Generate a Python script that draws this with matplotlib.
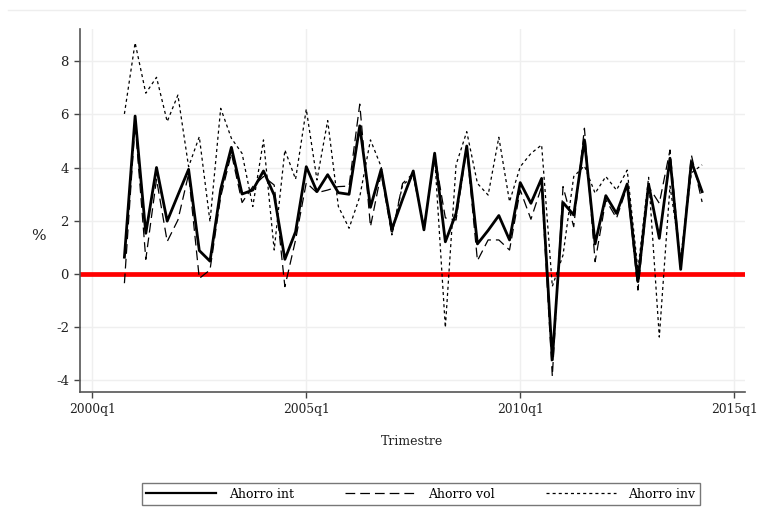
import numpy as np
import pandas as pd
import matplotlib
matplotlib.use("Agg")
import matplotlib.pyplot as plt
from matplotlib.lines import Line2D

plt.rcParams['font.family'] = ['DejaVu Serif']
plt.rcParams['lines.scale_dashes'] = False

# quarterly series, 2000q4 .. 2014q2
periods = pd.period_range("2000Q4", "2014Q2", freq="Q")

ahorro_int = [0.62, 5.94, 1.52, 4.00, 1.98, 2.96, 3.93, 0.87, 0.47, 3.18,
              4.76, 3.00, 3.15, 3.87, 2.96, 0.54, 1.58, 4.03, 3.09, 3.73,
              3.05, 2.99, 5.57, 2.50, 3.93, 1.67, 2.80, 3.87, 1.65, 4.54,
              1.20, 2.27, 4.81, 1.12, 1.63, 2.19, 1.27, 3.43, 2.65, 3.59,
              -3.25, 2.68, 2.21, 5.04, 1.12, 2.94, 2.27, 3.38, -0.30, 3.37,
              1.33, 4.35, 0.16, 4.22, 3.09]
ahorro_vol = [-0.36, 5.67, 0.54, 3.56, 1.21, 2.02, 3.75, -0.18, 0.14, 2.90,
              4.53, 2.68, 3.28, 3.66, 3.34, -0.49, 1.27, 3.43, 3.05, 3.15,
              3.28, 3.30, 6.39, 1.77, 3.78, 1.46, 3.40, 3.78, 1.71, 4.47,
              2.10, 2.02, 4.72, 0.49, 1.27, 1.27, 0.89, 3.15, 2.05, 3.28,
              -3.87, 3.28, 1.77, 5.48, 0.45, 2.78, 2.09, 3.28, -0.62, 3.28,
              2.65, 4.66, 0.26, 4.47, 2.70]
ahorro_inv = [6.02, 8.70, 6.80, 7.40, 5.73, 6.73, 4.03, 5.16, 1.96, 6.23,
              5.10, 4.53, 2.53, 5.04, 0.89, 4.66, 3.56, 6.20, 3.53, 5.77,
              2.53, 1.71, 2.90, 5.04, 4.03, 1.46, 3.34, 3.66, 1.77, 4.41,
              -2.03, 4.10, 5.35, 3.40, 2.96, 5.14, 2.71, 4.03, 4.53, 4.85,
              -0.48, 0.70, 3.66, 4.06, 3.03, 3.66, 3.15, 3.90, 0.14, 3.63,
              -2.39, 3.30, 0.60, 3.80, 4.10]

xtick_labels = ["2000q1", "2005q1", "2010q1", "2015q1"]
yticks = [-4, -2, 0, 2, 4, 6, 8]

base = pd.Period("2000Q1", freq="Q")
x = np.array([(p - base).n for p in periods])
xticks = [(pd.Period(s.upper(), freq="Q") - base).n for s in xtick_labels]

fig = plt.figure(figsize=(7.57, 5.31), dpi=100)
ax = fig.add_axes([0.1057, 0.2618, 0.8783, 0.6836])

grid_c = "#efefef"
for v in yticks:
    ax.axhline(v, color=grid_c, lw=1, zorder=0)
for v in xticks:
    ax.axvline(v, color=grid_c, lw=1, zorder=0)

ax.axhline(0, color="#ff0000", lw=3.4, zorder=2)

l1, = ax.plot(x, ahorro_int, color="black", lw=2.0, zorder=4, label="Ahorro int")
l2, = ax.plot(x, ahorro_vol, color="black", lw=0.9, dashes=(7.0, 3.6), zorder=3, label="Ahorro vol")
l3, = ax.plot(x, ahorro_inv, color="black", lw=0.9, dashes=(2.2, 2.2), zorder=3, label="Ahorro inv")

ax.set_xlim(-1.15, 61.0)
ax.set_ylim(-4.46, 9.22)
ax.set_xticks(xticks)
ax.set_xticklabels(xtick_labels)
ax.set_yticks(yticks)
ax.set_yticklabels([str(v) for v in yticks])

for s in ["top", "right"]:
    ax.spines[s].set_visible(False)
for s in ["left", "bottom"]:
    ax.spines[s].set_color("#555555")
    ax.spines[s].set_linewidth(1.2)
ax.tick_params(direction="out", length=4, width=1, color="#444444",
               labelcolor="#222222", pad=4)
ax.tick_params(axis="y", labelsize=9.5)
ax.tick_params(axis="x", labelsize=8.8)

ax.text(-0.063, 0.43, "%", transform=ax.transAxes, fontsize=11,
        ha="center", va="center", color="#222222")
ax.set_xlabel("Trimestre", fontsize=9, labelpad=13.5, color="#222222")

# faint top border line of the graph region
fig.add_artist(Line2D([0.011, 0.984], [0.981, 0.981], transform=fig.transFigure,
                      color="#eeeeee", lw=1))

leg = fig.legend(handles=[l1, l2, l3], loc="lower left",
                 bbox_to_anchor=(0.1876, 0.049, 0.737, 0.043), mode="expand",
                 ncol=3, frameon=True, fancybox=False, fontsize=9,
                 handlelength=5.6, handletextpad=1.0, borderpad=0.35,
                 borderaxespad=0)
leg.get_frame().set_edgecolor("#555555")
leg.get_frame().set_linewidth(1.0)
for h in leg.get_lines():
    h.set_linewidth(1.6 if h.get_linestyle() == "-" else 0.9)

fig.savefig("out.png", dpi=100)
